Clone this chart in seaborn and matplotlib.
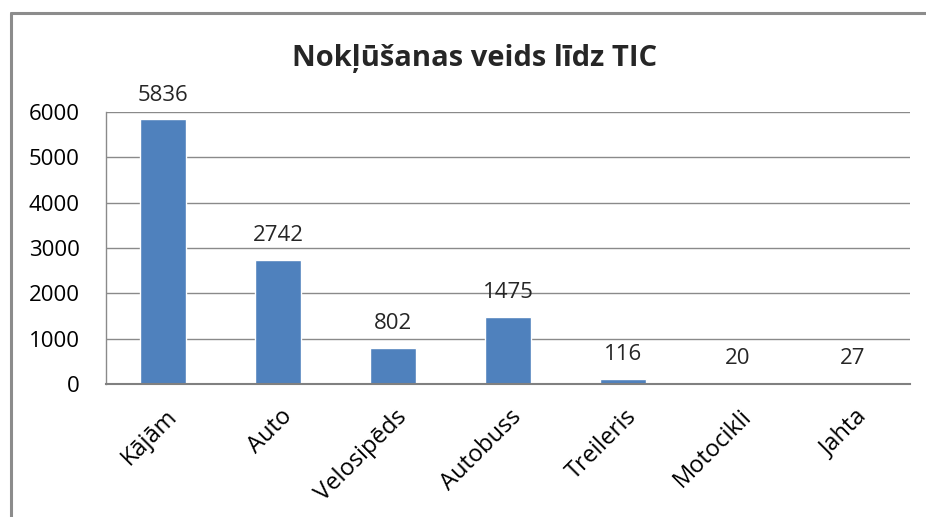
import matplotlib
matplotlib.use("Agg")
import matplotlib.pyplot as plt
import seaborn as sns
import pandas as pd
from matplotlib.lines import Line2D
import matplotlib.transforms as mtransforms

categories = ["Kājām", "Auto", "Velosipēds", "Autobuss", "Treileris", "Motocikli", "Jahta"]
values = [5836, 2742, 802, 1475, 116, 20, 27]
yticks = [0, 1000, 2000, 3000, 4000, 5000, 6000]
title = "Nokļūšanas veids līdz TIC"

sns.set_theme(style="white")
plt.rcParams['font.family'] = ['Open Sans', 'DejaVu Sans']

df = pd.DataFrame({"cat": categories, "val": values})

W, H = 926, 517
fig = plt.figure(figsize=(W / 100, H / 100), dpi=100)
fig.patch.set_facecolor("white")

# outer chart frame (continues beyond the image on the right and bottom)
fx = 10.5 / W
fy = 1 - 12.5 / H
fig.add_artist(Line2D([fx, fx], [-0.05, fy], transform=fig.transFigure, color="#8c8c8c", linewidth=2.2))
fig.add_artist(Line2D([fx, 1.05], [fy, fy], transform=fig.transFigure, color="#8c8c8c", linewidth=2.2))

ax = fig.add_axes([106 / W, 1 - 384 / H, (910 - 106) / W, (384 - 112) / H])
sns.barplot(data=df, x="cat", y="val", color="#4F81BD", width=0.4, saturation=1, ax=ax)

ax.set_ylim(0, 6000)
ax.set_yticks(yticks)
ax.set_yticklabels([str(t) for t in yticks], fontsize=16)
ax.yaxis.grid(True, color="#8a8a8a", linewidth=1)
ax.set_axisbelow(True)
ax.set_xlabel("")
ax.set_ylabel("")
ax.tick_params(axis="y", length=0, pad=19, colors="black")
ax.tick_params(axis="x", length=0, pad=15, colors="black")
ax.spines["right"].set_visible(False)
ax.spines["top"].set_visible(False)
ax.spines["left"].set_color("#8a8a8a")
ax.spines["bottom"].set_color("#808080")
ax.spines["left"].set_linewidth(1)
ax.spines["bottom"].set_linewidth(1.5)

ax.set_xticks(range(len(categories)))
ax.set_xticklabels(categories, rotation=45, ha="right", rotation_mode="anchor", fontsize=17)
offset = mtransforms.ScaledTranslation(2 / 100, 0, fig.dpi_scale_trans)
for lbl in ax.get_xticklabels():
    lbl.set_transform(lbl.get_transform() + offset)

for i, v in enumerate(values):
    ax.annotate(str(v), (i, v), xytext=(0, 13.5), textcoords="offset points",
                ha="center", va="baseline", fontsize=16)

fig.text(475 / W, 1 - 58 / H, title, ha="center", va="center", fontsize=21, fontweight="bold")

fig.savefig("out.png", dpi=100)
